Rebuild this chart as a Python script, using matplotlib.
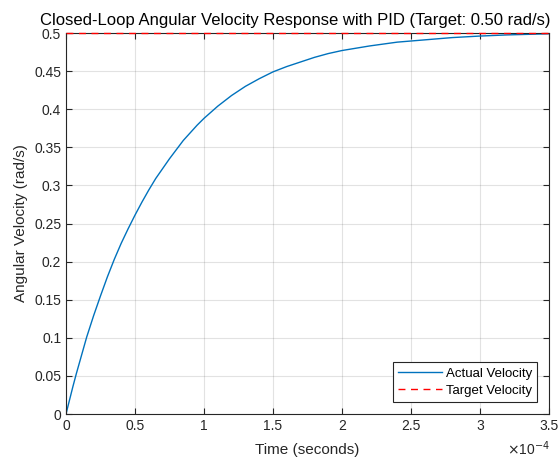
import matplotlib
matplotlib.use("Agg")
import matplotlib.pyplot as plt
from matplotlib.ticker import FuncFormatter

plt.rcParams['font.family'] = ['Liberation Sans', 'DejaVu Sans']

# Data (time in units of 1e-4 s)
time_e4 = [0, 0.025, 0.05, 0.075, 0.1, 0.125, 0.15, 0.175, 0.2, 0.25, 0.3, 0.35,
           0.4, 0.45, 0.5, 0.55, 0.6, 0.65, 0.7, 0.75, 0.8, 0.85, 0.9, 0.95, 1.0,
           1.1, 1.2, 1.3, 1.4, 1.5, 1.6, 1.7, 1.8, 1.9, 2.0, 2.2, 2.4, 2.6, 2.8,
           3.0, 3.2, 3.5]
velocity = [0, 0.018, 0.036, 0.053, 0.069, 0.085, 0.101, 0.115, 0.129, 0.155,
            0.180, 0.203, 0.224, 0.243, 0.261, 0.278, 0.294, 0.309, 0.322, 0.335,
            0.347, 0.359, 0.369, 0.379, 0.388, 0.404, 0.418, 0.430, 0.440, 0.449,
            0.456, 0.462, 0.468, 0.473, 0.477, 0.483, 0.488, 0.491, 0.494, 0.496,
            0.4975, 0.499]
target = 0.5
time_s = [t * 1e-4 for t in time_e4]

xticks_e4 = [0, 0.5, 1, 1.5, 2, 2.5, 3, 3.5]
yticks = [0, 0.05, 0.1, 0.15, 0.2, 0.25, 0.3, 0.35, 0.4, 0.45, 0.5]

fig = plt.figure(figsize=(5.6, 4.61), dpi=100)
ax = fig.add_axes([66/560, 47/461, 483/560, 381/461])

ax.plot(time_s, velocity, color='#0072BD', lw=1.0, label='Actual Velocity')
ax.plot([time_s[0], time_s[-1]], [target, target], color='red', ls=(0, (5, 4)),
        lw=1.0, label='Target Velocity', zorder=3, clip_on=False)

ax.set_xlim(0, 3.5e-4)
ax.set_ylim(0, 0.5)
ax.set_xticks([t * 1e-4 for t in xticks_e4])
ax.set_yticks(yticks)
ax.xaxis.set_major_formatter(FuncFormatter(lambda v, p: f'{v*1e4:g}'))
ax.yaxis.set_major_formatter(FuncFormatter(lambda v, p: f'{v:g}'))

dark = '#262626'
for s in ax.spines.values():
    s.set_color(dark)
    s.set_linewidth(0.8)
ax.tick_params(direction='in', length=4, width=0.8, colors=dark, labelsize=10,
               top=True, right=True, labelcolor=dark)
ax.grid(True, color='#262626', alpha=0.13, lw=0.8)
ax.set_axisbelow(True)

ax.set_xlabel('Time (seconds)', fontsize=11, color=dark, labelpad=7)
ax.set_ylabel('Angular Velocity (rad/s)', fontsize=11, color=dark)

fig.text(550/560, 1 - 25/461,
         'Closed-Loop Angular Velocity Response with PID (Target: 0.50 rad/s)',
         fontsize=12, color='black', ha='right', va='baseline')

fig.text(550/560, 3/461, r'$\times$10$^{-4}$', ha='right', va='bottom',
         fontsize=10, color=dark)

leg = ax.legend(loc='lower right', fontsize=9.5, frameon=True, fancybox=False,
                edgecolor=dark, framealpha=1, borderpad=0.4, handlelength=3.3,
                handletextpad=0.3, labelspacing=0.36, borderaxespad=0.9)
leg.get_frame().set_linewidth(0.8)

fig.savefig('out.png', dpi=100)
